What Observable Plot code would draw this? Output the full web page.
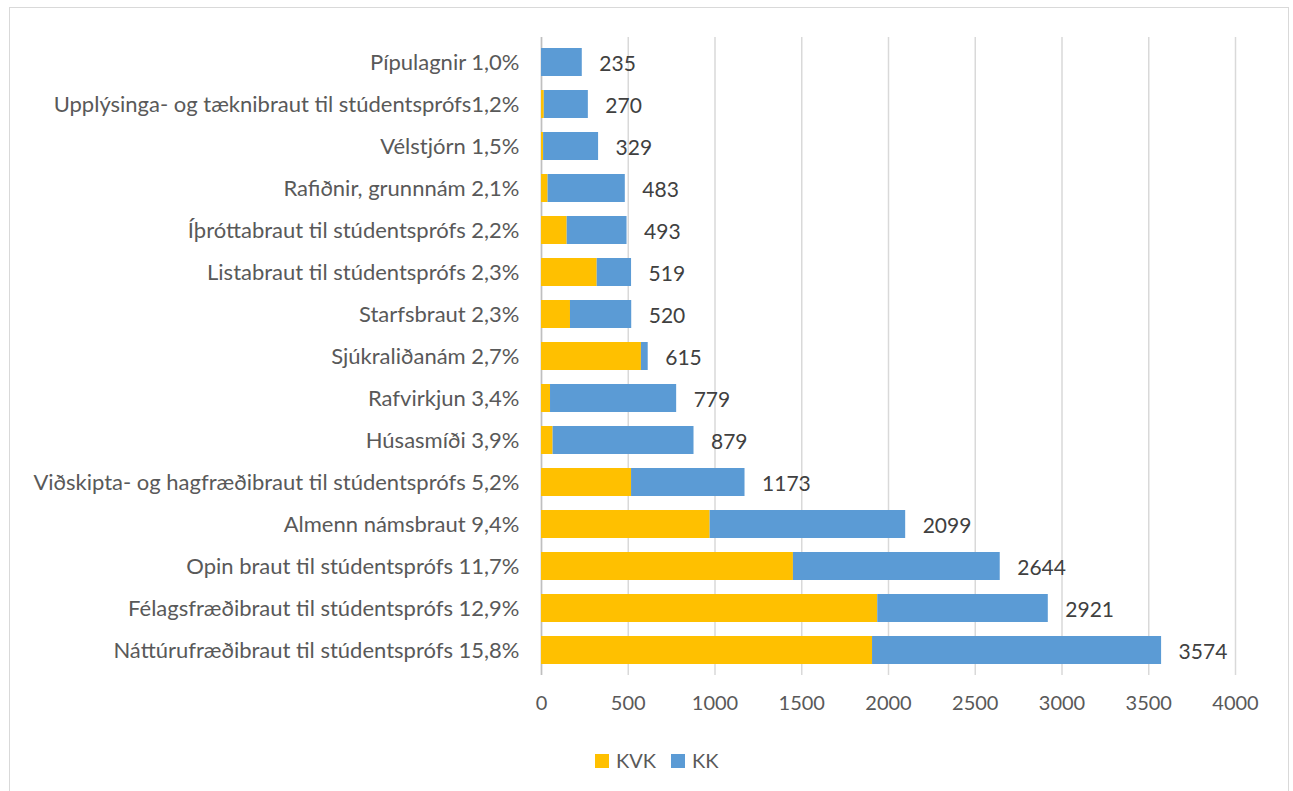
<!DOCTYPE html>
<html>
<head>
<meta charset="utf-8">
<script src="https://cdn.jsdelivr.net/npm/d3@7"></script>
<script src="https://cdn.jsdelivr.net/npm/@observablehq/plot@0.6"></script>
<style>
  body { margin: 0; background: #fff; font-family: Lato, "Open Sans", sans-serif; }
  #frame { position: absolute; left: 9px; top: 7px; width: 1280px; height: 800px; border: 1px solid #d9d9d9; box-sizing: border-box; }
  #chart { position: absolute; left: 0; top: 0; }
  #legend { position: absolute; top: 748px; left: 595px; display: flex; gap: 15px; font-size: 20px; color: #595959; align-items: center; }
  #legend span.sw { display: inline-block; width: 14px; height: 14px; margin-right: 7px; vertical-align: 0px; }
</style>
</head>
<body>
<div id="frame"></div>
<div id="chart"></div>
<div id="legend"></div>
<script>
const categories = [
  "Pípulagnir 1,0%",
  "Upplýsinga- og tæknibraut til stúdentsprófs1,2%",
  "Vélstjórn 1,5%",
  "Rafiðnir, grunnnám 2,1%",
  "Íþróttabraut til stúdentsprófs 2,2%",
  "Listabraut til stúdentsprófs 2,3%",
  "Starfsbraut 2,3%",
  "Sjúkraliðanám 2,7%",
  "Rafvirkjun 3,4%",
  "Húsasmíði 3,9%",
  "Viðskipta- og hagfræðibraut til stúdentsprófs 5,2%",
  "Almenn námsbraut 9,4%",
  "Opin braut til stúdentsprófs 11,7%",
  "Félagsfræðibraut til stúdentsprófs 12,9%",
  "Náttúrufræðibraut til stúdentsprófs 15,8%"
];
const kvk = [0, 16, 12, 38, 148, 321, 167, 576, 52, 67, 519, 972, 1452, 1938, 1908];
const kk  = [235, 254, 317, 445, 345, 198, 353, 39, 727, 812, 654, 1127, 1192, 983, 1666];
const seriesNames = ["KVK", "KK"];
const seriesColors = ["#FFC000", "#5B9BD5"];
const xTicks = [0, 500, 1000, 1500, 2000, 2500, 3000, 3500, 4000];

const rows = [];
categories.forEach((c, i) => {
  rows.push({cat: c, series: "KVK", value: kvk[i]});
  rows.push({cat: c, series: "KK", value: kk[i]});
});
const totals = categories.map((c, i) => ({cat: c, total: kvk[i] + kk[i]}));

const chart = Plot.plot({
  width: 1293,
  height: 730,
  marginLeft: 541,
  marginRight: 58,
  marginTop: 37,
  marginBottom: 55,
  style: {fontFamily: "Lato, 'Open Sans', sans-serif", fontSize: "20px", color: "#595959", background: "transparent"},
  x: {domain: [0, 4000], ticks: xTicks, tickFormat: d => String(d), label: null, tickSize: 0, tickPadding: 20},
  y: {domain: categories, label: null, tickSize: 0, tickPadding: 22, paddingInner: 0.34, paddingOuter: 0.17},
  color: {domain: seriesNames, range: seriesColors},
  marks: [
    Plot.gridX(xTicks, {stroke: "#d9d9d9", strokeOpacity: 1, strokeWidth: 1.5}),
    Plot.ruleX([0], {stroke: "#bfbfbf", strokeWidth: 1.5}),
    Plot.barX(rows, Plot.stackX({y: "cat", x: "value", fill: "series", order: seriesNames})),
    Plot.text(totals, {y: "cat", x: "total", text: d => String(d.total), dx: 17, dy: 2, textAnchor: "start", fill: "#404040", fontSize: 21}),
    Plot.axisY({tickSize: 0, tickPadding: 22, fontSize: 22, fill: "#595959", label: null})
  ]
});
document.getElementById("chart").appendChild(chart);

const legend = document.getElementById("legend");
seriesNames.forEach((s, i) => {
  const item = document.createElement("div");
  item.innerHTML = `<span class="sw" style="background:${seriesColors[i]}"></span>${s}`;
  legend.appendChild(item);
});
</script>
</body>
</html>
